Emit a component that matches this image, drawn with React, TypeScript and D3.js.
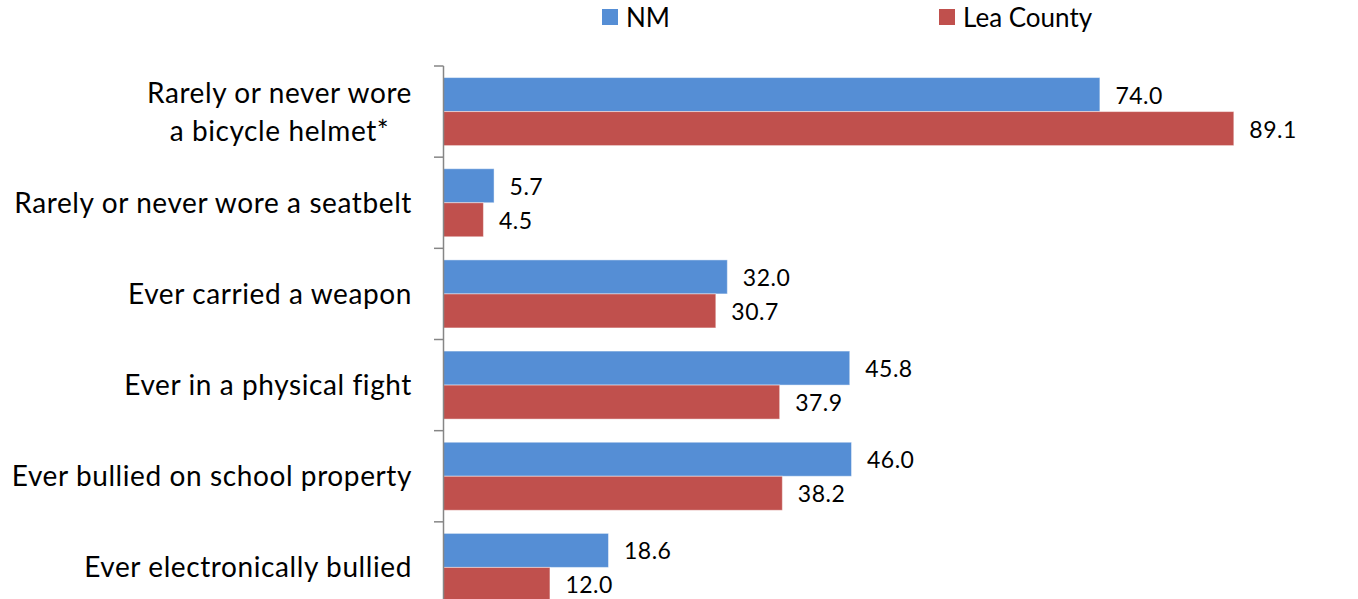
import { useEffect, useRef } from "react";
import * as d3 from "d3";

const categories = [
  "Rarely or never wore|a bicycle helmet*",
  "Rarely or never wore a seatbelt",
  "Ever carried a weapon",
  "Ever in a physical fight",
  "Ever bullied on school property",
  "Ever electronically bullied",
];
const seriesNames = ["NM", "Lea County"];
const nmValues = [74.0, 5.7, 32.0, 45.8, 46.0, 18.6];
const leaValues = [89.1, 4.5, 30.7, 37.9, 38.2, 12.0];
const colors = ["#558ED5", "#C0504D"];

const W = 1358;
const H = 599;
const FONT = "Lato, 'Open Sans', sans-serif";

const App = () => {
  const ref = useRef<SVGSVGElement>(null);

  useEffect(() => {
    const svg = d3.select(ref.current);
    svg.selectAll("*").remove();

    const x = d3.scaleLinear().domain([0, 100]).range([443, 1330]);
    const y = d3.scaleBand<string>().domain(categories).range([66, 613]).padding(0);
    const sub = d3
      .scaleBand<string>()
      .domain(seriesNames)
      .range([0, y.bandwidth()])
      .paddingInner(0)
      .paddingOuter(0.34);

    const values = [nmValues, leaValues];

    // bars + value labels
    categories.forEach((c, i) => {
      const g = svg.append("g").attr("transform", `translate(0,${y(c)})`);
      seriesNames.forEach((s, j) => {
        const v = values[j][i];
        g.append("rect")
          .attr("x", x(0) + 0.5)
          .attr("y", sub(s)!)
          .attr("width", x(v) - x(0))
          .attr("height", sub.bandwidth())
          .attr("fill", colors[j])
          .attr("stroke", "rgba(255,255,255,0.45)")
          .attr("stroke-width", 1);
        g.append("text")
          .attr("x", x(v) + 16)
          .attr("y", sub(s)! + sub.bandwidth() / 2 + 9)
          .attr("font-family", FONT)
          .attr("font-size", 23)
          .attr("letter-spacing", 0.5)
          .attr("fill", "#000")
          .text(v.toFixed(1));
      });
    });

    // axis line + ticks
    svg.append("line")
      .attr("x1", 443.5).attr("x2", 443.5)
      .attr("y1", 66).attr("y2", 613)
      .attr("stroke", "#868686").attr("stroke-width", 1.5);
    const bounds = categories.map((c) => y(c)!).concat([613]);
    svg.selectAll("line.tick")
      .data(bounds)
      .join("line")
      .attr("class", "tick")
      .attr("x1", 434).attr("x2", 443.5)
      .attr("y1", (d) => d).attr("y2", (d) => d)
      .attr("stroke", "#868686").attr("stroke-width", 1.5);

    // category labels: block right-aligned, lines centered within block
    const right = 412;
    categories.forEach((c) => {
      const lines = c.split("|");
      const cy = y(c)! + y.bandwidth() / 2;
      const lh = 38;
      const texts = lines.map((ln, k) =>
        svg.append("text")
          .attr("y", cy + (k - (lines.length - 1) / 2) * lh + 10)
          .attr("text-anchor", "middle")
          .attr("font-family", FONT)
          .attr("font-size", 28)
          .attr("letter-spacing", 0.6)
          .attr("fill", "#000")
          .text(ln)
      );
      const widths = texts.map((t) => (t.node() as SVGTextElement).getComputedTextLength());
      const maxW = d3.max(widths) ?? 0;
      texts.forEach((t) => t.attr("x", right - maxW / 2));
    });

    // legend
    const legendX = [602, 939];
    seriesNames.forEach((s, j) => {
      svg.append("rect")
        .attr("x", legendX[j]).attr("y", 9)
        .attr("width", 16).attr("height", 16)
        .attr("fill", colors[j]);
      svg.append("text")
        .attr("x", legendX[j] + 24)
        .attr("y", 27)
        .attr("font-family", FONT)
        .attr("font-size", 26)
        .attr("fill", "#000")
        .text(s);
    });
  }, []);

  return (
    <svg
      ref={ref}
      width={W}
      height={H}
      style={{ position: "absolute", left: 0, top: 0, background: "#fff" }}
    />
  );
};

export default App;
